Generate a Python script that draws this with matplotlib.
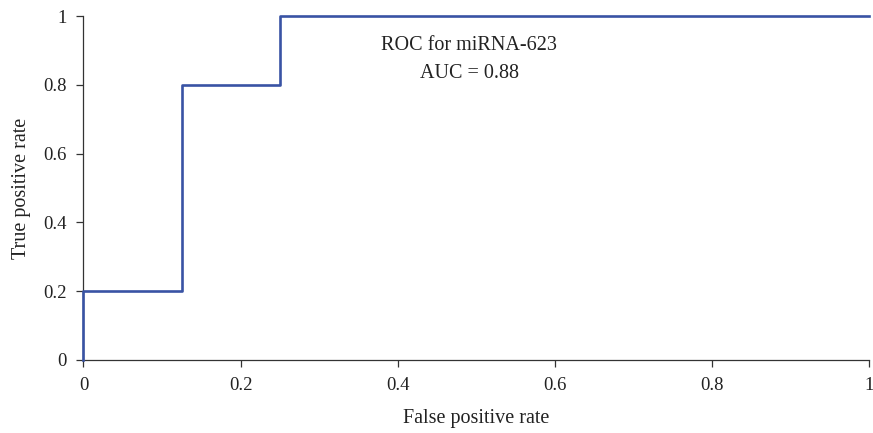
import matplotlib
matplotlib.use('Agg')
import matplotlib.pyplot as plt

# ROC curve steps for miRNA-623
fpr = [0, 0, 0.125, 0.125, 0.25, 0.25, 1]
tpr = [0, 0.2, 0.2, 0.8, 0.8, 1, 1]
ticks = [0, 0.2, 0.4, 0.6, 0.8, 1]
tick_labels = ['0', '0.2', '0.4', '0.6', '0.8', '1']

plt.rcParams['font.family'] = ['Liberation Serif', 'DejaVu Serif']

fig = plt.figure(figsize=(8.73, 4.33), dpi=100)
ax = fig.add_axes([0.0956, 0.1686, 0.8998, 0.7944])

ax.plot(fpr, tpr, color='#3953a4', linewidth=1.9, clip_on=False, zorder=3)

ax.set_xlim(0, 1)
ax.set_ylim(0, 1)
ax.set_xticks(ticks)
ax.set_xticklabels(tick_labels)
ax.set_yticks(ticks)
ax.set_yticklabels(tick_labels)
ax.tick_params(labelsize=13.5, length=5, width=0.9, color='#333333',
               labelcolor='#222222', pad=7)

for s in ['top', 'right']:
    ax.spines[s].set_visible(False)
for s in ['left', 'bottom']:
    ax.spines[s].set_linewidth(0.9)
    ax.spines[s].set_color('#333333')

ax.set_xlabel('False positive rate', fontsize=14.5, labelpad=11, color='#222222')
ax.set_ylabel('True positive rate', fontsize=14.5, labelpad=9, color='#222222')

ax.text(0.491, 0.874, 'ROC for miRNA-623\nAUC = 0.88', ha='center', va='center',
        fontsize=14.5, linespacing=1.65, color='#222222')

fig.savefig('out.png', dpi=100)
